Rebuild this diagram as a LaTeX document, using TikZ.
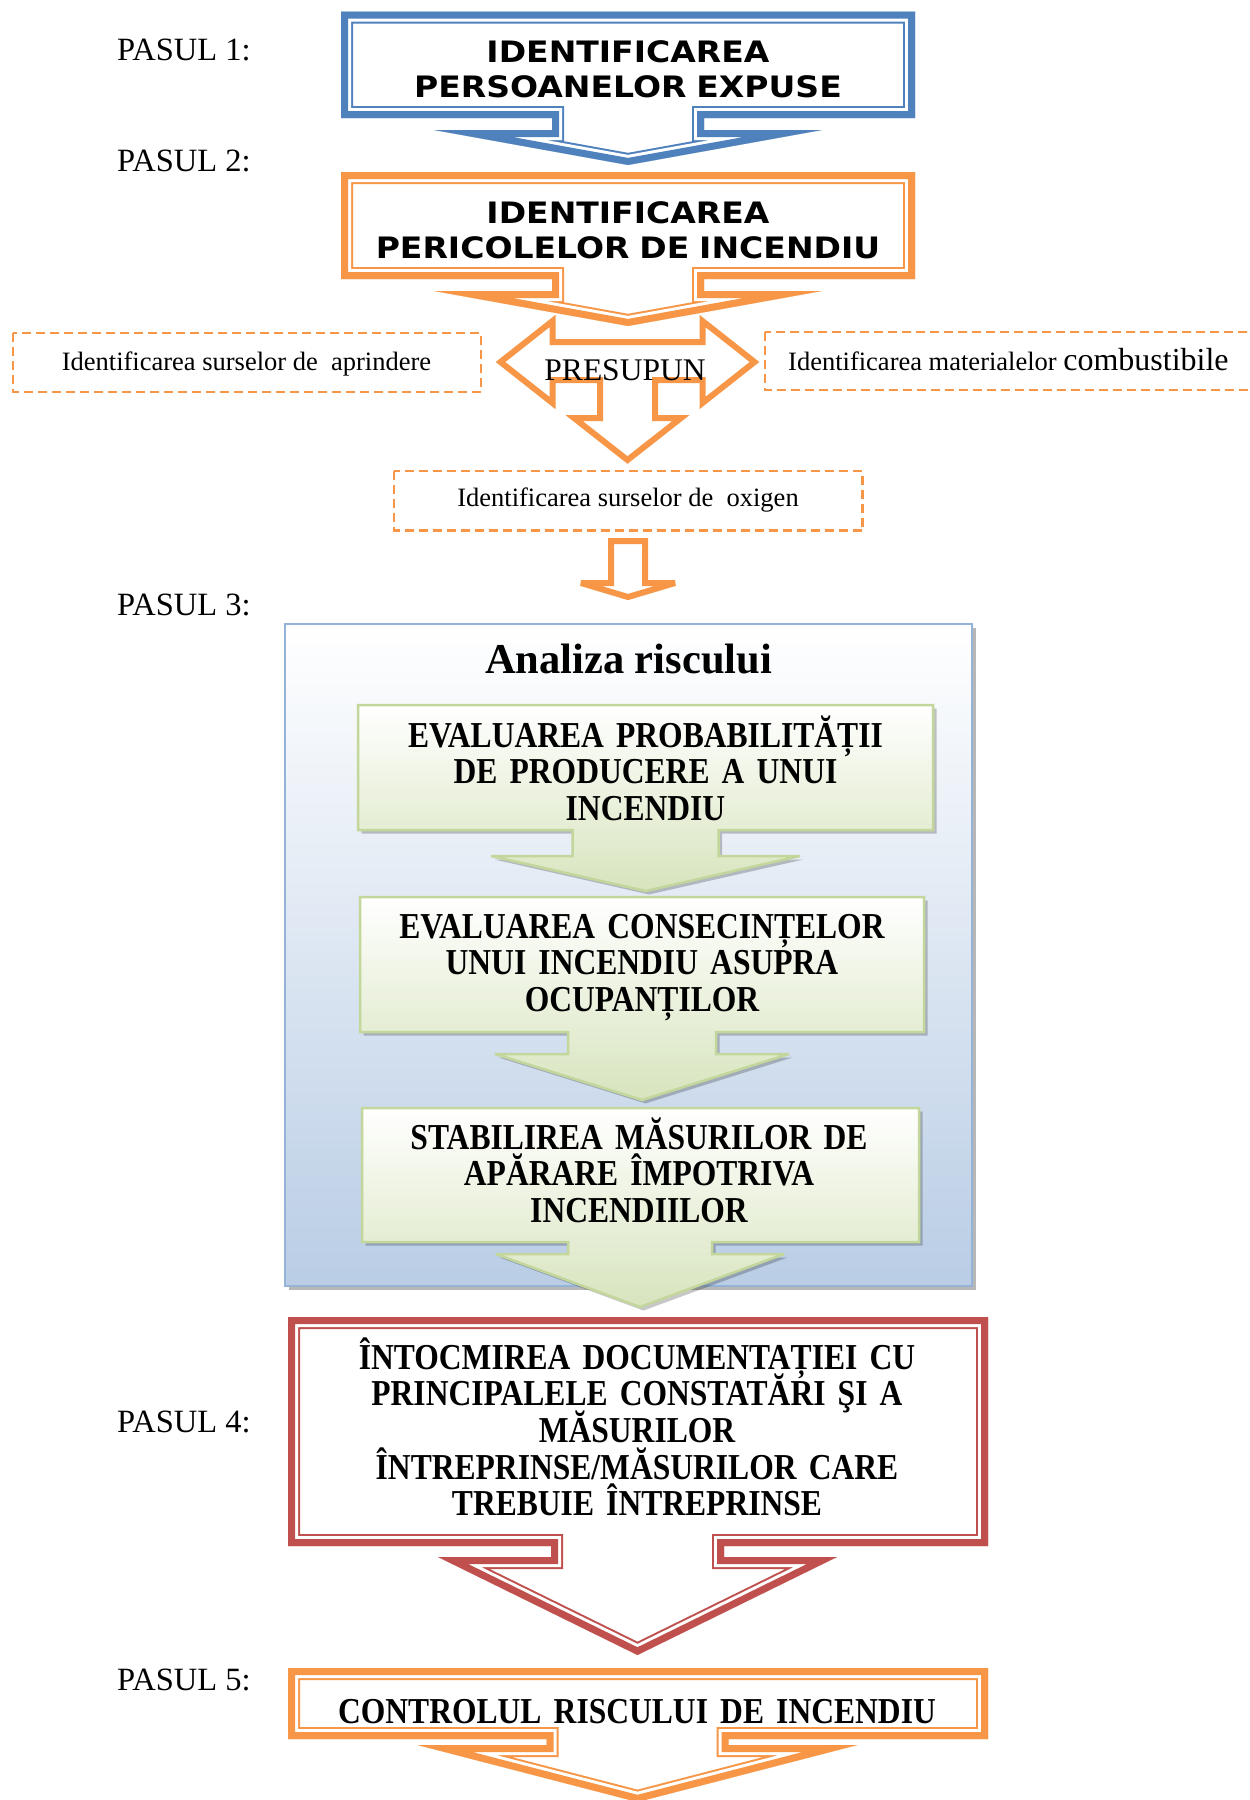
\documentclass[tikz,border=0pt]{standalone}
\usepackage{fontspec}
\setmainfont{Liberation Serif}
\newfontfamily\tnr{Liberation Serif}
\newfontfamily\tnrc[FakeStretch=0.865]{Liberation Serif}
\newfontfamily\wsans[FakeStretch=1.12]{DejaVu Sans}
\definecolor{stepblue}{HTML}{4F81BD}
\definecolor{steporange}{HTML}{F79646}
\definecolor{stepred}{HTML}{C0504D}
\definecolor{panelline}{HTML}{95B3D7}
\definecolor{panelbot}{HTML}{B9CDE5}
\definecolor{leafline}{HTML}{C3D69B}
\definecolor{leaffill}{HTML}{D7E4BD}

% callout with a thick-thin compound border lying inside the outline
\newcommand\framedcallout[2]{%
  \begin{scope}
    \fill[white] #2;
    \clip #2;
    \draw[#1, line width=24pt] #2;
    \draw[white, line width=20pt] #2;
    \draw[#1, line width=14pt] #2;
  \end{scope}}

% shaded green callout with a soft drop shadow
\newcommand\leafcallout[1]{%
  \fill[black, opacity=.22, shift={(3.5,3.5)}] #1;
  \shadedraw[top color=white, bottom color=leaffill, draw=leafline, line width=2.5pt] #1;}

% keep line spacing fixed whatever the accents
\newcommand\evenlines{\lineskiplimit=-100pt\relax}

\begin{document}
\begin{tikzpicture}[x=1pt,y=-1pt,line join=miter,miter limit=4,
  pasul/.style={font=\tnr\fontsize{32.5}{36}\selectfont,anchor=base west,inner sep=0pt},
  dashbox/.style={draw=steporange,line width=2.5pt,dash pattern=on 9pt off 5pt},
  dashtext/.style={font=\tnr\fontsize{26.5}{30}\selectfont,anchor=base,inner sep=0pt},
  hdrtext/.style={font=\wsans\bfseries\fontsize{29.5}{35.5}\selectfont,execute at begin node=\evenlines,align=center,text width=600pt,anchor=base,inner sep=0pt},
  boldtext/.style={font=\tnrc\bfseries\fontsize{36.5}{36.7}\selectfont,execute at begin node=\evenlines,align=center,text width=#1,anchor=base,inner sep=0pt},
  boldtext/.default=600pt,
  outline/.style={draw=steporange,line width=6pt}]
\useasboundingbox (0,0) rectangle (1250,1800);
\clip (0,0) rectangle (1250,1800);

% step labels
\node[pasul] (p1) at (117,60) {PASUL 1:};
\node[pasul] (p2) at (117,171) {PASUL 2:};
\node[pasul] (p3) at (117,615) {PASUL 3:};
\node[pasul] (p4) at (117,1432) {PASUL 4:};
\node[pasul] (p5) at (117,1690) {PASUL 5:};

% step 1
\framedcallout{stepblue}{(341,11.5) -- (915,11.5) -- (915,118) -- (704,118) -- (704,130) -- (822,130) -- (628,165) -- (434,130) -- (552,130) -- (552,118) -- (341,118) -- cycle}
\node[hdrtext] (s1) at (628,62) {IDENTIFICAREA\\PERSOANELOR EXPUSE};

% three-way arrow
\draw[outline] (500.5,362) -- (552.5,321) -- (552.5,342) -- (702.5,342) -- (702.5,321) -- (754.5,362) -- (702.5,403) -- (702.5,380) -- (655,380) -- (655,418) -- (681,418) -- (627.5,460) -- (574,418) -- (600,418) -- (600,380) -- (552.5,380) -- (552.5,403) -- cycle;

% step 2
\framedcallout{steporange}{(341,172) -- (915,172) -- (915,279) -- (704,279) -- (704,291) -- (822,291) -- (628,326) -- (434,291) -- (552,291) -- (552,279) -- (341,279) -- cycle}
\node[hdrtext] (s2) at (628,223) {IDENTIFICAREA\\PERICOLELOR DE INCENDIU};

\node[font=\tnr\fontsize{31.5}{36}\selectfont,anchor=base,inner sep=0pt] (pre) at (625,380) {PRESUPUN};

% the three sources
\draw[dashbox] (13,333) rectangle (481,392);
\node[dashtext] (src1) at (246.5,370) {Identificarea surselor de\ \ aprindere};
\draw[dashbox] (765,332) rectangle (1270,390);
\node[dashtext,anchor=base west] (src2) at (788,370) {Identificarea materialelor {\fontsize{32}{36}\selectfont combustibile}};
\draw[dashbox] (394,471) rectangle (862.5,530.5);
\node[dashtext] (src3) at (628,506.5) {Identificarea surselor de\ \ oxigen};

\draw[outline] (611,541) -- (645,541) -- (645,583) -- (675,583) -- (628,597) -- (581,583) -- (611,583) -- cycle;

% step 3: risk analysis panel
\fill[black!70, opacity=.4] (289,628) rectangle (976,1290);
\shadedraw[top color=white, bottom color=panelbot, draw=panelline, line width=2pt] (285,624) rectangle (972,1286);
\node[font=\tnr\bfseries\fontsize{42.5}{48}\selectfont,anchor=base,inner sep=0pt] (an) at (628.5,673) {Analiza riscului};

\leafcallout{(358,705) -- (933,705) -- (933,830) -- (718.5,830) -- (718.5,856) -- (800,856) -- (645.5,891) -- (491,856) -- (572.5,856) -- (572.5,830) -- (358,830) -- cycle}
\node[boldtext] (g1) at (645.5,747) {EVALUAREA PROBABILITĂȚII\\DE PRODUCERE A UNUI\\INCENDIU};

\leafcallout{(360,897) -- (924,897) -- (924,1032) -- (716,1032) -- (716,1054) -- (789,1054) -- (642,1100) -- (495,1054) -- (568,1054) -- (568,1032) -- (360,1032) -- cycle}
\node[boldtext] (g2) at (642,938) {EVALUAREA CONSECINȚELOR\\UNUI INCENDIU ASUPRA\\OCUPANȚILOR};

\leafcallout{(362,1108) -- (919,1108) -- (919,1242) -- (712,1242) -- (712,1254) -- (784,1254) -- (640,1307) -- (496,1254) -- (568,1254) -- (568,1242) -- (362,1242) -- cycle}
\node[boldtext] (g3) at (639,1149) {STABILIREA MĂSURILOR DE\\APĂRARE ÎMPOTRIVA\\INCENDIILOR};

% step 4
\framedcallout{stepred}{(288,1317) -- (988,1317) -- (988,1546) -- (724,1546) -- (724,1557) -- (837,1557) -- (637.5,1655) -- (438,1557) -- (551,1557) -- (551,1546) -- (288,1546) -- cycle}
\node[boldtext=700pt] (s4) at (637,1369) {ÎNTOCMIREA DOCUMENTAȚIEI CU\\PRINCIPALELE CONSTATĂRI ŞI A\\MĂSURILOR\\ÎNTREPRINSE/MĂSURILOR CARE\\TREBUIE ÎNTREPRINSE};

% step 5
\framedcallout{steporange}{(288,1668) -- (988,1668) -- (988,1739) -- (728.5,1739) -- (728.5,1745) -- (857.5,1745) -- (637.5,1802) -- (417.5,1745) -- (546.5,1745) -- (546.5,1739) -- (288,1739) -- cycle}
\node[boldtext=700pt] (s5) at (637,1723) {CONTROLUL RISCULUI DE INCENDIU};
\end{tikzpicture}
\end{document}
